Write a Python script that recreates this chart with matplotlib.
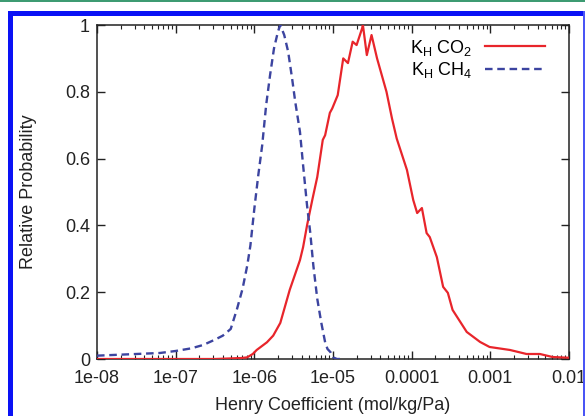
import numpy as np
import matplotlib
matplotlib.use("Agg")
import matplotlib.pyplot as plt
from matplotlib.ticker import LogLocator, FixedLocator, FixedFormatter, NullFormatter
from matplotlib.patches import Rectangle

plt.rcParams['font.family'] = ['Liberation Sans', 'DejaVu Sans']
plt.rcParams['mathtext.fontset'] = 'custom'
plt.rcParams['mathtext.rm'] = 'Liberation Sans'
plt.rcParams['mathtext.it'] = 'Liberation Sans:italic'
plt.rcParams['mathtext.bf'] = 'Liberation Sans:bold'

# ---- data (log10 of Henry coefficient, relative probability) ----
ch4_log = [-8.0, -7.6, -7.4, -7.2, -7.0, -6.8, -6.65, -6.5, -6.4, -6.3, -6.22,
           -6.15, -6.09, -6.05, -6.0, -5.95, -5.9, -5.85, -5.8, -5.75, -5.7,
           -5.67, -5.62, -5.57, -5.52, -5.48, -5.42, -5.38, -5.33, -5.29,
           -5.25, -5.2, -5.15, -5.1, -5.07, -5.03, -5.0, -4.95, -4.9]
ch4_p = [0.010, 0.014, 0.016, 0.018, 0.024, 0.032, 0.042, 0.058, 0.070, 0.090,
         0.150, 0.210, 0.280, 0.340, 0.450, 0.550, 0.640, 0.760, 0.850, 0.930,
         0.980, 1.000, 0.970, 0.920, 0.840, 0.770, 0.680, 0.580, 0.460, 0.380,
         0.280, 0.180, 0.110, 0.050, 0.030, 0.020, 0.005, 0.0, 0.0]

co2_log = [-8.0, -7.0, -6.5, -6.16, -6.09, -6.02, -5.97, -5.84, -5.76, -5.67,
           -5.55, -5.42, -5.38, -5.33, -5.29, -5.26, -5.2, -5.13, -5.1, -5.04,
           -5.01, -4.94, -4.87, -4.81, -4.75, -4.7, -4.63, -4.62, -4.57,
           -4.51, -4.44, -4.32, -4.25, -4.19, -4.06, -3.98, -3.93, -3.87,
           -3.81, -3.77, -3.68, -3.6, -3.54, -3.48, -3.3, -3.13, -3.01,
           -2.75, -2.54, -2.37, -2.21, -2.03, -2.0]
co2_p = [0.0, 0.0, 0.0, 0.003, 0.005, 0.015, 0.027, 0.050, 0.070, 0.108,
         0.207, 0.296, 0.335, 0.400, 0.446, 0.480, 0.545, 0.656, 0.670, 0.737,
         0.750, 0.790, 0.900, 0.886, 0.950, 0.940, 0.990, 1.000, 0.910,
         0.970, 0.900, 0.800, 0.720, 0.660, 0.566, 0.476, 0.437, 0.452,
         0.377, 0.365, 0.305, 0.216, 0.198, 0.147, 0.081, 0.051, 0.036,
         0.027, 0.015, 0.015, 0.006, 0.004, 0.004]

xtick_vals = [1e-8, 1e-7, 1e-6, 1e-5, 1e-4, 1e-3, 1e-2]
xtick_labels = ['1e-08', '1e-07', '1e-06', '1e-05', '0.0001', '0.001', '0.01']
ytick_vals = [0, 0.2, 0.4, 0.6, 0.8, 1.0]
ytick_labels = ['0', '0.2', '0.4', '0.6', '0.8', '1']

W, H = 585, 416
FS = 13
fig = plt.figure(figsize=(W / 100, H / 100), dpi=100)
fig.patch.set_facecolor('white')

# decorative frame
fig.patches.append(Rectangle((0, 1 - 1.5 / H), 1, 1.5 / H, transform=fig.transFigure,
                             facecolor='#3d9b72', edgecolor='none', zorder=0))
fig.patches.append(Rectangle((8 / W, 0), 5 / W, 1 - 11 / H, transform=fig.transFigure,
                             facecolor='#0a12f5', edgecolor='none', zorder=0))
fig.patches.append(Rectangle((8 / W, 1 - 16 / H), 1 - 8 / W, 5 / H, transform=fig.transFigure,
                             facecolor='#0a12f5', edgecolor='none', zorder=0))
fig.patches.append(Rectangle((583 / W, 0), 1.5 / W, 1 - 11 / H, transform=fig.transFigure,
                             facecolor='#4a55f5', edgecolor='none', zorder=0))

ax = fig.add_axes([97 / W, 1 - 359 / H, (569 - 97) / W, (359 - 25) / H])

ch4_x = 10 ** np.array(ch4_log)
co2_x = 10 ** np.array(co2_log)

ax.plot(co2_x, co2_p, color='#e8252b', lw=1.6, label=r'K$_{\mathrm{H}}$ CO$_2$', zorder=3)
ax.plot(ch4_x, ch4_p, color='#3c44a0', lw=1.7, ls=(0, (3.2, 2.0)),
        label=r'K$_{\mathrm{H}}$ CH$_4$', zorder=3)

ax.set_xscale('log')
ax.set_xlim(1e-8, 1e-2)
ax.set_ylim(0, 1)

ax.xaxis.set_major_locator(FixedLocator(xtick_vals))
ax.xaxis.set_major_formatter(FixedFormatter(xtick_labels))
ax.xaxis.set_minor_locator(LogLocator(base=10, subs=np.arange(2, 10), numticks=20))
ax.xaxis.set_minor_formatter(NullFormatter())
ax.yaxis.set_major_locator(FixedLocator(ytick_vals))
ax.yaxis.set_major_formatter(FixedFormatter(ytick_labels))

ax.tick_params(which='both', direction='in', top=True, right=True, colors='#222222',
               labelcolor='#222222', labelsize=FS)
ax.tick_params(which='major', length=6, width=1.0)
ax.tick_params(axis='y', which='major', pad=5)
ax.tick_params(axis='x', which='major', pad=8)
ax.tick_params(which='minor', length=3, width=0.8)
for s in ax.spines.values():
    s.set_linewidth(1.1)
    s.set_color('#222222')

ax.set_xlabel('Henry Coefficient (mol/kg/Pa)', fontsize=FS, color='#222222', labelpad=7)
ax.set_ylabel('Relative Probability', fontsize=FS, color='#222222', labelpad=20)

leg = ax.legend(loc='upper right', frameon=False, markerfirst=False, fontsize=FS,
                handlelength=3.3, handletextpad=0.7, labelspacing=0.15,
                borderaxespad=0.3, bbox_to_anchor=(0.975, 1.0))

fig.savefig('out.png', dpi=100, facecolor='white')
